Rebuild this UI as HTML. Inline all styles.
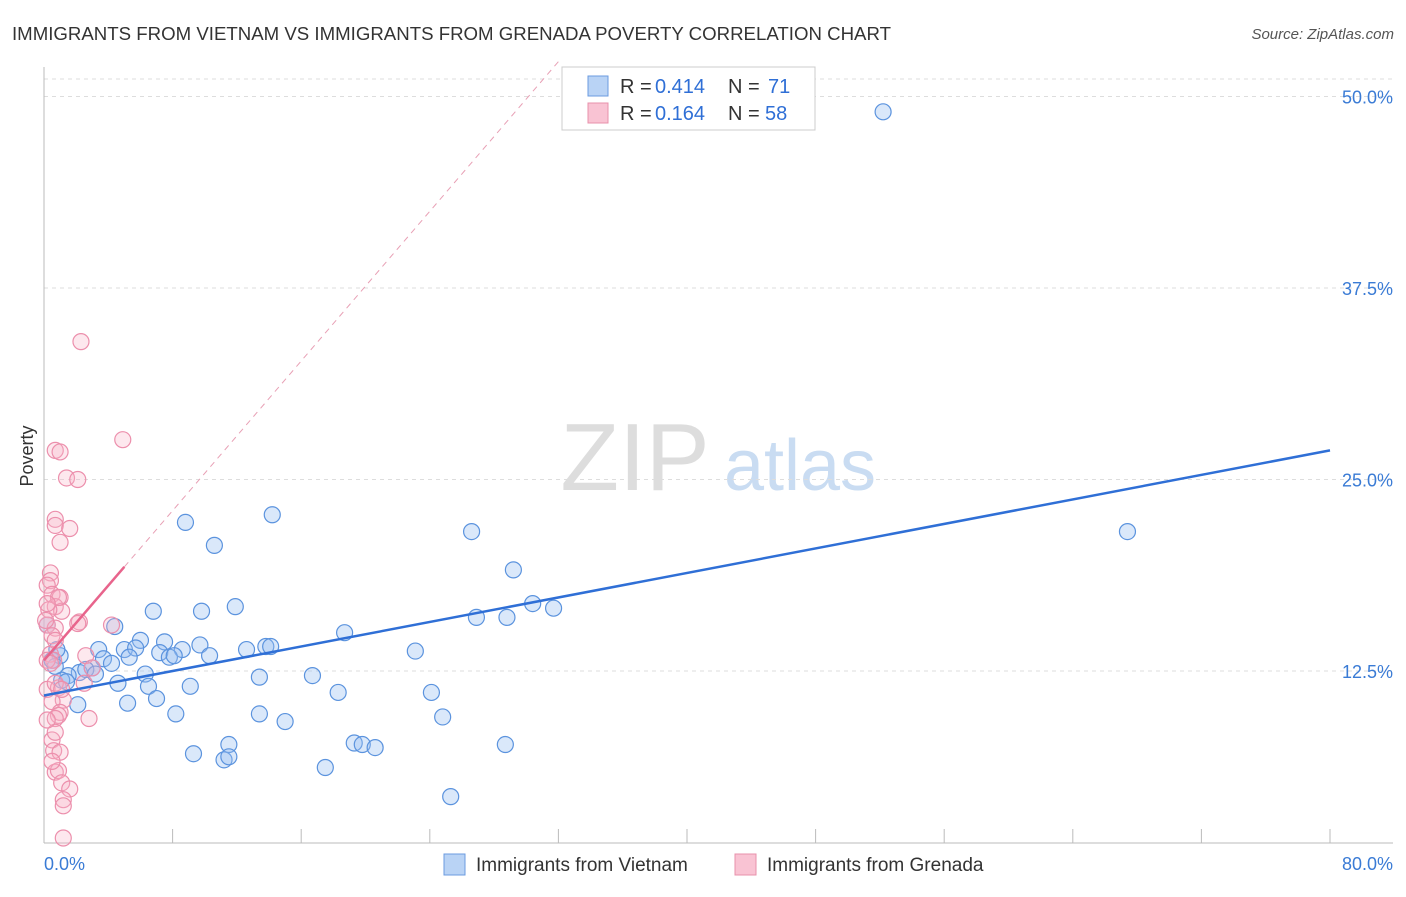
<!DOCTYPE html>
<html><head><meta charset="utf-8"><style>
body{margin:0;background:#fff;font-family:"Liberation Sans",sans-serif}
svg text{font-family:"Liberation Sans",sans-serif}
</style></head><body>
<svg id="c" width="1406" height="892">
<text x="12" y="40" font-size="18" fill="#333" textLength="879" lengthAdjust="spacingAndGlyphs">IMMIGRANTS FROM VIETNAM VS IMMIGRANTS FROM GRENADA POVERTY CORRELATION CHART</text>
<text x="1394" y="39" font-size="15" fill="#555" text-anchor="end" font-style="italic">Source: ZipAtlas.com</text>
<text x="33" y="456" font-size="18" fill="#333" transform="rotate(-90 33 456)" text-anchor="middle">Poverty</text>
<g><text x="635" y="490" font-size="96" font-family="Liberation Serif" fill="#ddd" text-anchor="middle">ZIP</text><text x="800" y="490" font-size="72" fill="#c9dcf2" text-anchor="middle">atlas</text></g>
<g id="grid"></g><g id="axes"></g><g id="marks"></g>
<g>
<rect x="562" y="67" width="253" height="63" fill="#fff" stroke="#ccc"/>
<rect x="588" y="76" width="20" height="20" fill="#b9d3f5" stroke="#6b9be0"/>
<rect x="588" y="103" width="20" height="20" fill="#f9c3d3" stroke="#e890ab"/>
<text x="620" y="93" font-size="20" fill="#333">R =</text><text x="655" y="93" font-size="20" fill="#2f6fd6">0.414</text>
<text x="728" y="93" font-size="20" fill="#333">N =</text><text x="768" y="93" font-size="20" fill="#2f6fd6">71</text>
<text x="620" y="120" font-size="20" fill="#333">R =</text><text x="655" y="120" font-size="20" fill="#2f6fd6">0.164</text>
<text x="728" y="120" font-size="20" fill="#333">N =</text><text x="765" y="120" font-size="20" fill="#2f6fd6">58</text>
</g>
<g>
<rect x="444" y="854" width="21" height="21" fill="#b9d3f5" stroke="#6b9be0"/>
<text x="476" y="871" font-size="19" fill="#333">Immigrants from Vietnam</text>
<rect x="735" y="854" width="21" height="21" fill="#f9c3d3" stroke="#e890ab"/>
<text x="767" y="871" font-size="19" fill="#333">Immigrants from Grenada</text>
</g>
</svg>
<script>
const yTicks=[12.5,25,37.5,50];
const yTickLabels=["12.5%","25.0%","37.5%","50.0%"];
const xTicks=[0,8,16,24,32,40,48,56,64,72,80];
const vietnamX=[52.2,67.4,8.8,14.2,10.6,26.6,29.2,6.8,9.8,11.9,30.4,31.7,26.9,28.8,4.4,18.7,6.0,7.5,3.4,5.0,5.7,8.6,9.7,12.6,13.8,14.1,23.1,7.2,7.8,8.1,10.3,5.3,3.7,4.2,1.0,0.5,3.0,2.2,2.6,1.5,1.1,6.3,16.7,13.4,4.6,6.5,9.1,18.3,24.1,7.0,5.2,2.1,8.2,13.4,24.8,15.0,11.5,19.3,19.8,20.6,28.7,9.3,11.2,11.5,17.5,25.3,0.7,0.2,1.4,3.2,0.8];
const vietnamY=[49.0,21.6,22.2,22.7,20.7,21.6,19.1,16.4,16.4,16.7,16.9,16.6,16.0,16.0,15.4,15.0,14.5,14.4,13.9,13.9,14.0,13.9,14.2,13.9,14.1,14.1,13.8,13.7,13.4,13.5,13.5,13.4,13.3,13.0,13.5,13.2,12.7,12.4,12.6,12.2,11.9,12.3,12.2,12.1,11.7,11.5,11.5,11.1,11.1,10.7,10.4,10.3,9.7,9.7,9.5,9.2,7.7,7.8,7.7,7.5,7.7,7.1,6.7,6.9,6.2,4.3,12.8,15.5,11.8,12.3,13.9];
const grenadaX=[2.3,4.9,0.7,1.0,1.4,2.1,0.7,0.7,1.6,1.0,0.4,0.4,0.2,0.5,1.0,0.7,1.1,0.3,2.2,2.1,4.2,0.2,0.7,0.5,2.6,0.4,0.6,3.0,0.2,0.9,1.2,0.5,1.0,0.9,0.7,2.8,0.5,0.7,0.6,1.0,0.7,0.9,1.1,1.6,1.2,1.2,1.2,0.2,0.4,0.1,0.9,0.7,1.1,0.2,0.5,2.5,0.2,0.7];
const grenadaY=[34.0,27.6,26.9,26.8,25.1,25.0,22.4,22.0,21.8,20.9,18.9,18.4,18.1,17.5,17.3,16.7,16.4,16.5,15.7,15.6,15.5,15.5,15.3,14.8,13.5,13.6,13.2,12.7,11.3,11.4,10.6,10.5,9.8,9.6,9.4,9.4,8.0,8.5,7.3,7.2,5.9,6.0,5.2,4.8,4.1,3.7,1.6,13.2,13.0,15.8,17.3,11.7,11.3,9.3,6.6,11.7,16.9,14.5];
const vietnamFit=[[0,10.9],[80,26.9]];
const grenadaFit=[[0,13.2],[5,19.3]];
const grenadaDash=[[5,19.3],[32.1,52.4]];
const X=v=>44+v*16.075, Y=v=>862.5-v*15.32;
const NS="http://www.w3.org/2000/svg";
function mk(t,a,p){const e=document.createElementNS(NS,t);for(const k in a)e.setAttribute(k,a[k]);p.appendChild(e);return e;}
const grid=document.getElementById('grid'),axes=document.getElementById('axes'),marks=document.getElementById('marks');
const topGrid=mk('line',{x1:44,x2:1393,y1:79,y2:79,stroke:'#ddd','stroke-dasharray':'4,4'},grid);


yTicks.forEach((t,i)=>{
 const l=mk('line',{x1:44,x2:1393,y1:Y(t),y2:Y(t),stroke:'#ddd','stroke-dasharray':'4,4'},grid);
 
 
 const tx=mk('text',{x:1393,y:Y(t)+7,'font-size':18,fill:'#3a7bd5','text-anchor':'end'},axes);
 tx.textContent=yTickLabels[i];
 
 
});
const ya=mk('line',{x1:44,x2:44,y1:67,y2:843,stroke:'#bbb'},axes);


const xa=mk('line',{x1:44,x2:1393,y1:843,y2:843,stroke:'#bbb'},axes);


xTicks.forEach(t=>{
 const l=mk('line',{x1:X(t),x2:X(t),y1:829,y2:843,stroke:'#bbb'},axes);
 
 
});
[[0,'0.0%','start',44],[80,'80.0%','end',1393]].forEach(d=>{
 const tx=mk('text',{x:d[3],y:870,'font-size':18,fill:'#3a7bd5','text-anchor':d[2]},axes);
 tx.textContent=d[1];
 
 
});
vietnamX.forEach((x,i)=>{
 const c=mk('circle',{cx:X(x),cy:Y(vietnamY[i]),r:8,fill:'rgba(150,190,240,0.35)',stroke:'#5b93de','stroke-width':1.2},marks);
 
 
});
grenadaX.forEach((x,i)=>{
 const c=mk('circle',{cx:X(x),cy:Y(grenadaY[i]),r:8,fill:'rgba(248,180,200,0.3)',stroke:'#ec8fac','stroke-width':1.2},marks);
 
 
});
const dl=mk('line',{x1:X(grenadaDash[0][0]),y1:Y(grenadaDash[0][1]),x2:X(grenadaDash[1][0]),y2:Y(grenadaDash[1][1]),stroke:'#e8a0b5','stroke-dasharray':'6,5','stroke-width':1},marks);


const vl=mk('line',{x1:X(vietnamFit[0][0]),y1:Y(vietnamFit[0][1]),x2:X(vietnamFit[1][0]),y2:Y(vietnamFit[1][1]),stroke:'#2f6fd6','stroke-width':2.5},marks);


const gl=mk('line',{x1:X(grenadaFit[0][0]),y1:Y(grenadaFit[0][1]),x2:X(grenadaFit[1][0]),y2:Y(grenadaFit[1][1]),stroke:'#e8648c','stroke-width':2.5},marks);


</script>
</body></html>
